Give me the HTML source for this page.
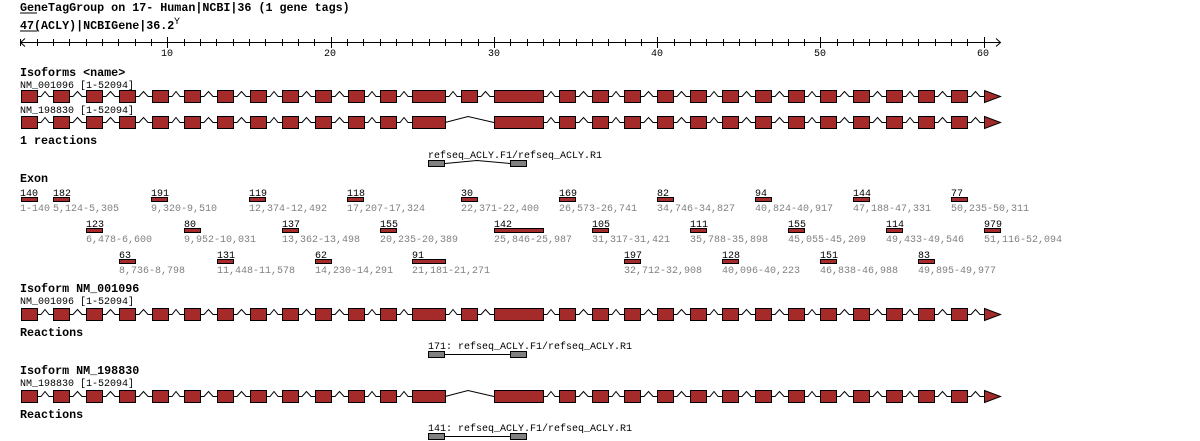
<!DOCTYPE html>
<html><head><meta charset="utf-8"><style>
html,body{margin:0;padding:0;background:#fff;width:1200px;height:441px;overflow:hidden}
svg{display:block}
.t{font-family:"Liberation Mono",monospace;font-size:11.7px;font-weight:bold;fill:#000}
.s{font-family:"Liberation Mono",monospace;font-size:10px;fill:#000}
.g{font-family:"Liberation Mono",monospace;font-size:10px;fill:#808080}
</style></head><body>
<svg id="c" width="1200" height="441" xmlns="http://www.w3.org/2000/svg">
<text class="t" x="20" y="11">GeneTagGroup on 17- Human|NCBI|36 (1 gene tags)</text>
<line x1="20" y1="13" x2="37" y2="13" stroke="#000"/>
<text class="t" x="20" y="29">47(ACLY)|NCBIGene|36.2</text>
<text class="s" x="174" y="24" font-size="8">Y</text>
<line x1="20" y1="31" x2="37" y2="31" stroke="#000"/>
<text class="s" x="161" y="56">10</text>
<text class="s" x="324" y="56">20</text>
<text class="s" x="488" y="56">30</text>
<text class="s" x="651" y="56">40</text>
<text class="s" x="814" y="56">50</text>
<text class="s" x="977" y="56">60</text>
<text class="t" x="20" y="76">Isoforms &lt;name&gt;</text>
<text class="s" x="20" y="88">NM_001096 [1-52094]</text>
<text class="s" x="20" y="113">NM_198830 [1-52094]</text>
<text class="t" x="20" y="144">1 reactions</text>
<text class="s" x="428" y="158">refseq_ACLY.F1/refseq_ACLY.R1</text>
<text class="t" x="20" y="182">Exon</text>
<text class="t" x="20" y="292">Isoform NM_001096</text>
<text class="s" x="20" y="304">NM_001096 [1-52094]</text>
<text class="t" x="20" y="336">Reactions</text>
<text class="s" x="428" y="349">171: refseq_ACLY.F1/refseq_ACLY.R1</text>
<text class="t" x="20" y="374">Isoform NM_198830</text>
<text class="s" x="20" y="386">NM_198830 [1-52094]</text>
<text class="t" x="20" y="418">Reactions</text>
<text class="s" x="428" y="431">141: refseq_ACLY.F1/refseq_ACLY.R1</text>

<g id="ex">
<text class="s" x="20" y="196">140</text><text class="g" x="20" y="211">1-140</text>
<text class="s" x="53" y="196">182</text><text class="g" x="53" y="211">5,124-5,305</text>
<text class="s" x="151" y="196">191</text><text class="g" x="151" y="211">9,320-9,510</text>
<text class="s" x="249" y="196">119</text><text class="g" x="249" y="211">12,374-12,492</text>
<text class="s" x="347" y="196">118</text><text class="g" x="347" y="211">17,207-17,324</text>
<text class="s" x="461" y="196">30</text><text class="g" x="461" y="211">22,371-22,400</text>
<text class="s" x="559" y="196">169</text><text class="g" x="559" y="211">26,573-26,741</text>
<text class="s" x="657" y="196">82</text><text class="g" x="657" y="211">34,746-34,827</text>
<text class="s" x="755" y="196">94</text><text class="g" x="755" y="211">40,824-40,917</text>
<text class="s" x="853" y="196">144</text><text class="g" x="853" y="211">47,188-47,331</text>
<text class="s" x="951" y="196">77</text><text class="g" x="951" y="211">50,235-50,311</text>

<text class="s" x="86" y="227">123</text><text class="g" x="86" y="242">6,478-6,600</text>
<text class="s" x="184" y="227">80</text><text class="g" x="184" y="242">9,952-10,031</text>
<text class="s" x="282" y="227">137</text><text class="g" x="282" y="242">13,362-13,498</text>
<text class="s" x="380" y="227">155</text><text class="g" x="380" y="242">20,235-20,389</text>
<text class="s" x="494" y="227">142</text><text class="g" x="494" y="242">25,846-25,987</text>
<text class="s" x="592" y="227">105</text><text class="g" x="592" y="242">31,317-31,421</text>
<text class="s" x="690" y="227">111</text><text class="g" x="690" y="242">35,788-35,898</text>
<text class="s" x="788" y="227">155</text><text class="g" x="788" y="242">45,055-45,209</text>
<text class="s" x="886" y="227">114</text><text class="g" x="886" y="242">49,433-49,546</text>
<text class="s" x="984" y="227">979</text><text class="g" x="984" y="242">51,116-52,094</text>

<text class="s" x="119" y="258">63</text><text class="g" x="119" y="273">8,736-8,798</text>
<text class="s" x="217" y="258">131</text><text class="g" x="217" y="273">11,448-11,578</text>
<text class="s" x="315" y="258">62</text><text class="g" x="315" y="273">14,230-14,291</text>
<text class="s" x="412" y="258">91</text><text class="g" x="412" y="273">21,181-21,271</text>
<text class="s" x="624" y="258">197</text><text class="g" x="624" y="273">32,712-32,908</text>
<text class="s" x="722" y="258">128</text><text class="g" x="722" y="273">40,096-40,223</text>
<text class="s" x="820" y="258">151</text><text class="g" x="820" y="273">46,838-46,988</text>
<text class="s" x="918" y="258">83</text><text class="g" x="918" y="273">49,895-49,977</text>
</g>
</svg>
<script>
var s=document.getElementById('c'),NS='http://www.w3.org/2000/svg';
function el(n,a){var e=document.createElementNS(NS,n);for(var k in a)e.setAttribute(k,a[k]);s.appendChild(e);return e;}
// ruler
el('line',{x1:20,y1:42.5,x2:1000,y2:42.5,stroke:'#000'});
el('polyline',{points:'25,38.5 20.5,42.5 25,46.5',fill:'none',stroke:'#000'});
el('polyline',{points:'996,38.5 1000.5,42.5 996,46.5',fill:'none',stroke:'#000'});
for(var u=1;u<=60;u++){var x=Math.round(4+16.33*u)+.5;var big=u%10==0;el('line',{x1:x,y1:big?37:39,x2:x,y2:big?48:46,stroke:'#000'});}
var X=[21,53,86,119,152,184,217,250,282,315,348,380,412,461,494,559,592,624,657,690,722,755,788,820,853,886,918,951,984];
var W={412:33,494:49};
function row(cy,skip){
 var ex=X.filter(function(x){return !(skip&&x==461);});
 for(var i=0;i<ex.length;i++){
  var x=ex[i],w=W[x]||16;
  if(i>0){var px=ex[i-1]+(W[ex[i-1]]||16);
   if(skip&&x==494){el('polyline',{points:px+','+(cy+.5)+' 468,'+(cy-5.5)+' '+x+','+(cy+.5),fill:'none',stroke:'#000'});}
   else{var m=(px+x)/2;el('polyline',{points:px+','+(cy+.5)+' '+(px+4)+','+(cy+.5)+' '+m+','+(cy-4.5)+' '+(x-4)+','+(cy+.5)+' '+x+','+(cy+.5),fill:'none',stroke:'#000'});}
  }
  if(x==984){el('polygon',{points:'984.5,'+(cy-5.5)+' 1000.5,'+(cy+.5)+' 984.5,'+(cy+6.5),fill:'#a52a2a',stroke:'#000'});}
  else el('rect',{x:x+.5,y:cy-5.5,width:w,height:12,fill:'#a52a2a',stroke:'#000'});
 }
}
row(96,false);row(122,true);row(314,false);row(396,true);
// exon bars
var bars=[[21,197],[53,197],[151,197],[249,197],[347,197],[461,197],[559,197],[657,197],[755,197],[853,197],[951,197],
[86,228],[184,228],[282,228],[380,228],[494,228,49],[592,228],[690,228],[788,228],[886,228],[984,228],
[119,259],[217,259],[315,259],[412,259,33],[624,259],[722,259],[820,259],[918,259]];
bars.forEach(function(b){el('rect',{x:b[0]+.5,y:b[1]+.5,width:b[2]||16,height:4,fill:'#a52a2a',stroke:'#000'});});
// reactions
function rx(y,hump){
 el('polyline',{points:'445,'+(y+3.5)+(hump?' 477,'+(y+0.5):'')+' 510,'+(y+3.5),fill:'none',stroke:'#000'});
 el('rect',{x:428.5,y:y+.5,width:16,height:6,fill:'#808080',stroke:'#000'});
 el('rect',{x:510.5,y:y+.5,width:16,height:6,fill:'#808080',stroke:'#000'});
}
rx(160,true);rx(351,false);rx(433,false);
</script>
</body></html>
